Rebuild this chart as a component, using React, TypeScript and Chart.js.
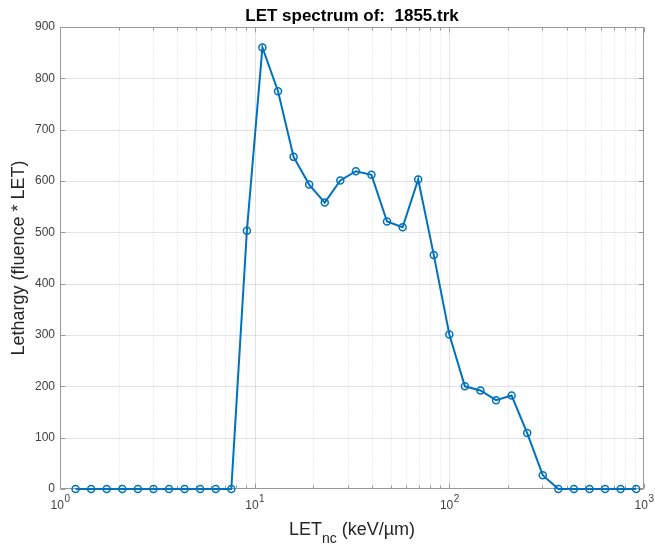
import React, { useEffect, useRef } from "react";
import { Chart, registerables } from "chart.js";

Chart.register(...registerables);

const TITLE = "LET spectrum of:  1855.trk";
const Y_LABEL = "Lethargy (fluence * LET)";
const X_LABEL_MAIN = "LET";
const X_LABEL_SUB = "nc";
const X_LABEL_REST = " (keV/µm)";

// LET bin values (keV/µm)
const letValues = [
  1.202, 1.445, 1.738, 2.089, 2.512, 3.02, 3.631, 4.365, 5.248, 6.31, 7.586,
  9.12, 10.96, 13.18, 15.85, 19.05, 22.91, 27.54, 33.11, 39.81, 47.86, 57.54,
  69.18, 83.18, 100.0, 120.2, 144.5, 173.8, 208.9, 251.2, 302.0, 363.1, 436.5,
  524.8, 631.0, 758.6, 912.0,
];

// Lethargy (fluence * LET)
const lethargy = [
  0, 0, 0, 0, 0, 0, 0, 0, 0, 0, 0,
  503, 860, 775, 647, 593, 558, 601, 619, 612, 521, 510,
  603, 456, 301, 200, 192, 173, 182, 109, 27, 0, 0,
  0, 0, 0, 0,
];

const xDecades = [1, 10, 100, 1000];
const xDecadeExponents = ["0", "1", "2", "3"];
const xMinorTicks = [
  2, 3, 4, 5, 6, 7, 8, 9, 20, 30, 40, 50, 60, 70, 80, 90, 200, 300, 400, 500,
  600, 700, 800, 900,
];
const yTicks = [0, 100, 200, 300, 400, 500, 600, 700, 800, 900];

const FONT = '"Liberation Sans", Arial, Helvetica, sans-serif';
const LINE_COLOR = "#0072BD";
const TEXT_COLOR = "#262626";
const TICK_TEXT_COLOR = "#404040";
const BOX_COLOR = "#9a9a9a";

const matlabAxes = {
  id: "matlabAxes",
  beforeDatasetsDraw(chart: any) {
    const { ctx, chartArea: a, scales } = chart;
    const xs = scales.x;
    const ys = scales.y;
    const L = Math.round(a.left) + 0.5;
    const R = Math.round(a.right) - 0.5;
    const T = Math.round(a.top) + 0.5;
    const B = Math.round(a.bottom) - 0.5;
    ctx.save();
    ctx.lineWidth = 1;

    // minor x grid (dotted)
    ctx.setLineDash([1, 2]);
    ctx.strokeStyle = "rgba(38,38,38,0.16)";
    for (const v of xMinorTicks) {
      const x = Math.round(xs.getPixelForValue(v)) + 0.5;
      ctx.beginPath();
      ctx.moveTo(x, T);
      ctx.lineTo(x, B);
      ctx.stroke();
    }
    ctx.setLineDash([]);

    // major grid
    ctx.strokeStyle = "rgba(38,38,38,0.13)";
    for (const v of yTicks) {
      if (v <= ys.min || v >= ys.max) continue;
      const y = Math.round(ys.getPixelForValue(v)) + 0.5;
      ctx.beginPath();
      ctx.moveTo(L, y);
      ctx.lineTo(R, y);
      ctx.stroke();
    }
    for (const v of xDecades) {
      if (v <= xs.min || v >= xs.max) continue;
      const x = Math.round(xs.getPixelForValue(v)) + 0.5;
      ctx.beginPath();
      ctx.moveTo(x, T);
      ctx.lineTo(x, B);
      ctx.stroke();
    }

    // box
    ctx.strokeStyle = BOX_COLOR;
    ctx.strokeRect(L, T, R - L, B - T);

    // tick marks (inward, all four sides)
    const tick = (x1: number, y1: number, x2: number, y2: number) => {
      ctx.beginPath();
      ctx.moveTo(x1, y1);
      ctx.lineTo(x2, y2);
      ctx.stroke();
    };
    for (const v of yTicks) {
      const y = Math.round(ys.getPixelForValue(v)) + 0.5;
      tick(L, y, L + 5, y);
      tick(R, y, R - 5, y);
    }
    for (const v of xDecades) {
      const x = Math.round(xs.getPixelForValue(v)) + 0.5;
      tick(x, B, x, B - 5);
      tick(x, T, x, T + 5);
    }
    for (const v of xMinorTicks) {
      const x = Math.round(xs.getPixelForValue(v)) + 0.5;
      tick(x, B, x, B - 3);
      tick(x, T, x, T + 3);
    }
    ctx.restore();
  },
  afterDraw(chart: any) {
    const { ctx, chartArea: a, scales } = chart;
    const xs = scales.x;
    const cx = (a.left + a.right) / 2;
    const cy = (a.top + a.bottom) / 2;
    ctx.save();

    // title
    ctx.fillStyle = "#000";
    ctx.font = `bold 17px ${FONT}`;
    ctx.textAlign = "center";
    ctx.textBaseline = "alphabetic";
    ctx.fillText(TITLE, cx, 20.5);

    // x tick labels with superscript exponents
    ctx.fillStyle = TICK_TEXT_COLOR;
    ctx.textAlign = "left";
    xDecades.forEach((v, i) => {
      const x = xs.getPixelForValue(v);
      ctx.font = `12px ${FONT}`;
      const wBase = ctx.measureText("10").width;
      ctx.font = `10px ${FONT}`;
      const wExp = ctx.measureText(xDecadeExponents[i]).width;
      const start = x - (wBase + wExp) / 2;
      ctx.font = `12px ${FONT}`;
      ctx.fillText("10", start, 509);
      ctx.font = `10px ${FONT}`;
      ctx.fillText(xDecadeExponents[i], start + wBase + 0.5, 502);
    });

    // x label with subscript
    ctx.fillStyle = TEXT_COLOR;
    ctx.font = `18px ${FONT}`;
    const w1 = ctx.measureText(X_LABEL_MAIN).width;
    const w3 = ctx.measureText(X_LABEL_REST).width;
    ctx.font = `14px ${FONT}`;
    const w2 = ctx.measureText(X_LABEL_SUB).width;
    let sx = cx - (w1 + w2 + w3) / 2;
    ctx.font = `18px ${FONT}`;
    ctx.fillText(X_LABEL_MAIN, sx, 535);
    sx += w1;
    ctx.font = `14px ${FONT}`;
    ctx.fillText(X_LABEL_SUB, sx, 543);
    sx += w2;
    ctx.font = `18px ${FONT}`;
    ctx.fillText(X_LABEL_REST, sx, 535);

    // y label
    ctx.translate(24, cy);
    ctx.rotate(-Math.PI / 2);
    ctx.textAlign = "center";
    ctx.font = `18px ${FONT}`;
    ctx.fillText(Y_LABEL, 0, 0);
    ctx.restore();
  },
};

export default function App() {
  const canvasRef = useRef<HTMLCanvasElement | null>(null);

  useEffect(() => {
    document.body.style.margin = "0";
    const canvas = canvasRef.current;
    if (!canvas) return;
    const chart = new Chart(canvas, {
      type: "line",
      data: {
        datasets: [
          {
            data: letValues.map((x, i) => ({ x, y: lethargy[i] })),
            borderColor: LINE_COLOR,
            borderWidth: 2,
            pointRadius: 3.5,
            pointBorderWidth: 1.5,
            pointBorderColor: LINE_COLOR,
            pointBackgroundColor: "rgba(0,0,0,0)",
            pointStyle: "circle",
            tension: 0,
            fill: false,
            clip: false as any,
          },
        ],
      },
      options: {
        animation: false,
        responsive: false,
        events: [],
        layout: { padding: { top: 27, right: 11, left: 0, bottom: 0 } },
        plugins: {
          legend: { display: false },
          tooltip: { enabled: false },
          title: { display: false },
        },
        scales: {
          x: {
            type: "logarithmic",
            min: 1,
            max: 1000,
            ticks: { display: false },
            grid: { display: false, drawTicks: false },
            border: { display: false },
            afterFit: (s: any) => {
              s.height = 56;
            },
          },
          y: {
            type: "linear",
            min: 0,
            max: 900,
            ticks: {
              stepSize: 100,
              color: TICK_TEXT_COLOR,
              font: { family: FONT, size: 12 },
              padding: 5,
            },
            grid: { display: false, drawTicks: false },
            border: { display: false },
            afterFit: (s: any) => {
              s.width = 60;
            },
          },
        },
      } as any,
      plugins: [matlabAxes],
    });
    return () => chart.destroy();
  }, []);

  return (
    <div style={{ position: "absolute", left: 0, top: 0, width: 655, height: 545, background: "#fff" }}>
      <canvas ref={canvasRef} width={655} height={545} style={{ display: "block" }} />
    </div>
  );
}
